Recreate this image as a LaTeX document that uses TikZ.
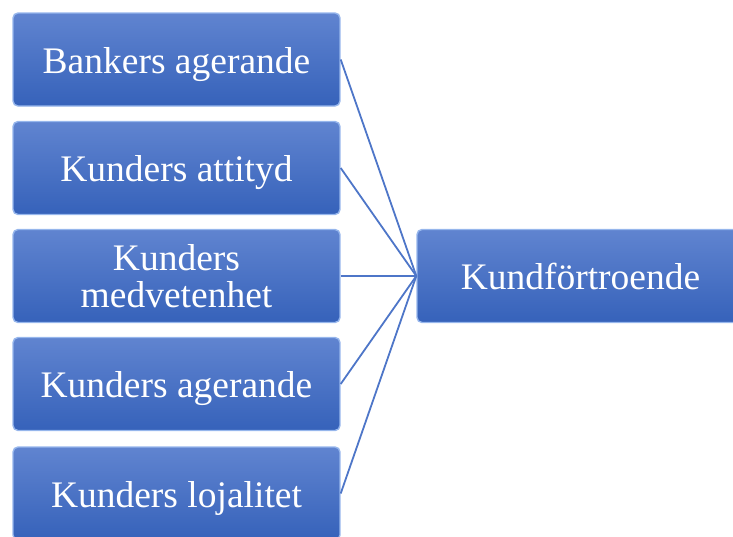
\documentclass[tikz,border=0pt]{standalone}
\usepackage{fontspec}
\setmainfont{Liberation Serif}

\definecolor{boxtop}{RGB}{96,132,208}
\definecolor{boxbot}{RGB}{54,98,186}
\definecolor{boxrim}{RGB}{150,182,236}
\definecolor{linkblue}{RGB}{78,118,200}

\tikzset{
  box/.style={draw=boxrim, line width=1.4pt, rounded corners=5pt,
    top color=boxtop, bottom color=boxbot, text=white,
    minimum width=327pt, minimum height=93pt, inner sep=0pt,
    align=center, font=\fontsize{37.5}{37}\selectfont},
  oneline/.style={box, text height=27pt, text depth=0pt},
  link/.style={draw=linkblue, line width=1.8pt}
}

\begin{document}
\begin{tikzpicture}[x=1pt,y=-1pt]
\useasboundingbox (0,0) rectangle (733,536);
\clip (0,0) rectangle (733,536);
\node[oneline] (b1) at (176.5,59.5) {Bankers agerande};
\node[oneline] (b2) at (176.5,168) {Kunders attityd};
\node[box] (b3) at (176.5,276) {Kunders\\medvetenhet};
\node[oneline] (b4) at (176.5,384) {Kunders agerande};
\node[oneline] (b5) at (176.5,493.5) {Kunders lojalitet};
\node[oneline] (k) at (580.5,276) {Kundförtroende};
\path[link] (b1.east) -- (k.west);
\path[link] (b2.east) -- (k.west);
\path[link] (b3.east) -- (k.west);
\path[link] (b4.east) -- (k.west);
\path[link] (b5.east) -- (k.west);
\end{tikzpicture}
\end{document}
